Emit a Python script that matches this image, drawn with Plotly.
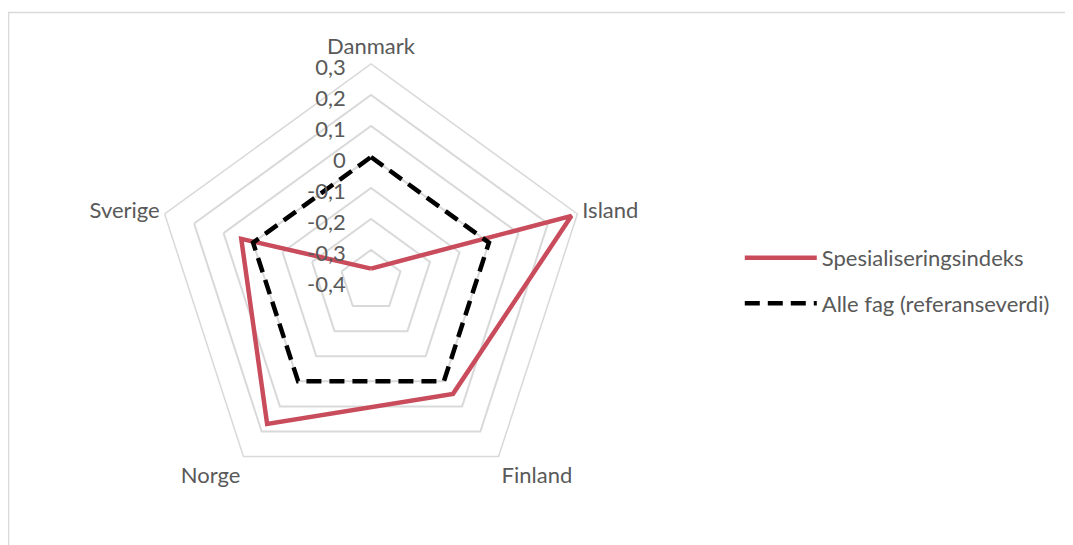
import plotly.graph_objects as go

categories = ["Danmark", "Island", "Finland", "Norge", "Sverige"]
spesialisering = [-0.36, 0.28, 0.05, 0.17, 0.04]
alle_fag = [0, 0, 0, 0, 0]
tick_vals = [-0.4, -0.3, -0.2, -0.1, 0, 0.1, 0.2, 0.3]
tick_text = ["-0,4", "-0,3", "-0,2", "-0,1", "0", "0,1", "0,2", "0,3"]

W, H = 1073, 545
cx, cy, R = 363, 273, 217

fig = go.Figure()
fig.add_trace(go.Scatterpolar(
    r=spesialisering + spesialisering[:1],
    theta=categories + categories[:1],
    mode="lines",
    name="Spesialiseringsindeks",
    legendgroup="a",
    line=dict(color="#C94C5C", width=4.5),
))
fig.add_trace(go.Scatterpolar(
    r=alle_fag + alle_fag[:1],
    theta=categories + categories[:1],
    mode="lines",
    name="Alle fag (referanseverdi)",
    legendgroup="b",
    line=dict(color="black", width=4.5, dash="15px,8px"),
))

fig.update_layout(
    width=W, height=H,
    margin=dict(l=0, r=0, t=0, b=0),
    paper_bgcolor="white",
    plot_bgcolor="white",
    font=dict(family="Lato", size=22, color="#595959"),
    polar=dict(
        domain=dict(x=[(cx - R) / W, (cx + R) / W],
                    y=[(H - cy - R) / H, (H - cy + R) / H]),
        gridshape="linear",
        bgcolor="white",
        angularaxis=dict(
            direction="clockwise", rotation=90,
            showgrid=False, showline=True, linecolor="#D9D9D9", linewidth=1.5,
            ticks="", tickfont=dict(size=22, color="#595959"),
        ),
        radialaxis=dict(
            range=[-0.4, 0.3], tickvals=tick_vals, ticktext=tick_text,
            showline=False, ticks="outside", ticklen=5,
            tickcolor="rgba(0,0,0,0)",
            gridcolor="#D9D9D9", gridwidth=1.5,
            angle=90, side="counterclockwise",
            tickfont=dict(size=22, color="#595959"),
        ),
    ),
    legend=dict(
        x=0.682, y=0.58, xanchor="left", yanchor="top",
        itemwidth=72, tracegroupgap=14,
        font=dict(size=22, color="#595959"),
        bgcolor="rgba(0,0,0,0)",
    ),
    shapes=[dict(type="rect", xref="paper", yref="paper",
                 x0=0.5 / W, x1=1.02, y0=-0.05, y1=1 - 4.5 / H,
                 line=dict(color="#D9D9D9", width=1.5), layer="below")],
)

fig.write_html("out.html")
